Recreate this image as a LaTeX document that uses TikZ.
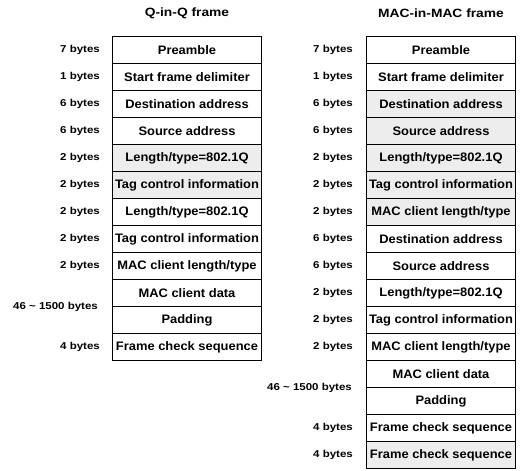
\documentclass[tikz,border=0pt]{standalone}
\usepackage{fontspec}
\setmainfont{Liberation Sans}
\newfontfamily\fieldfont[FakeStretch=1.05]{Liberation Sans}
\newfontfamily\labelfont[FakeStretch=1.15]{Liberation Sans}
\usetikzlibrary{positioning}
\tikzset{
	field/.style={draw=black, line width=0.9pt, minimum width=149pt, minimum height=27pt, inner sep=0pt, font=\fieldfont\bfseries\fontsize{12.3}{14}\selectfont},
	tagged/.style={field, fill=gray!14},
	sizelabel/.style={anchor=east, inner sep=0pt, font=\labelfont\bfseries\fontsize{10}{12}\selectfont},
	frametitle/.style={font=\labelfont\bfseries\fontsize{12}{14}\selectfont}
}
\begin{document}
\begin{tikzpicture}[x=1pt,y=-1pt]
		
		\useasboundingbox (0,0) rectangle (525,471);
		
		\node[frametitle] (qqtitle) at (187,13) {Q-in-Q frame};
		\node[frametitle] (mmtitle) at (441,13) {MAC-in-MAC frame};
		
		% Q-in-Q frame
		\foreach \txt/\sty/\sz [count=\i] in {
			Preamble/field/7 bytes,
			Start frame delimiter/field/1 bytes,
			Destination address/field/6 bytes,
			Source address/field/6 bytes,
			{Length/type=802.1Q}/tagged/2 bytes,
			Tag control information/tagged/2 bytes,
			{Length/type=802.1Q}/field/2 bytes,
			Tag control information/field/2 bytes,
			{MAC client length/type}/field/2 bytes,
			MAC client data/field/,
			Padding/field/,
			Frame check sequence/field/4 bytes
		}{
			\node[\sty] (qq\i) at (187,{23+27*\i}) {\txt};
			\ifx\sz\empty\else
			\node[sizelabel, left=12pt of qq\i.west] (qqsz\i) {\sz};
			\fi
		}
		\node[sizelabel, left=14pt of qq10.south west] (qqdata) {46 \textasciitilde{} 1500 bytes};
		
		% MAC-in-MAC frame
		\foreach \txt/\sty/\sz [count=\i] in {
			Preamble/field/7 bytes,
			Start frame delimiter/field/1 bytes,
			Destination address/tagged/6 bytes,
			Source address/tagged/6 bytes,
			{Length/type=802.1Q}/tagged/2 bytes,
			Tag control information/tagged/2 bytes,
			{MAC client length/type}/tagged/2 bytes,
			Destination address/field/6 bytes,
			Source address/field/6 bytes,
			{Length/type=802.1Q}/field/2 bytes,
			Tag control information/field/2 bytes,
			{MAC client length/type}/field/2 bytes,
			MAC client data/field/,
			Padding/field/,
			Frame check sequence/field/4 bytes,
			Frame check sequence/tagged/4 bytes
		}{
			\node[\sty] (mm\i) at (441,{23+27*\i}) {\txt};
			\ifx\sz\empty\else
			\node[sizelabel, left=13pt of mm\i.west] (mmsz\i) {\sz};
			\fi
		}
		\node[sizelabel, left=14pt of mm13.south west] (mmdata) {46 \textasciitilde{} 1500 bytes};
		
	\end{tikzpicture}
\end{document}
